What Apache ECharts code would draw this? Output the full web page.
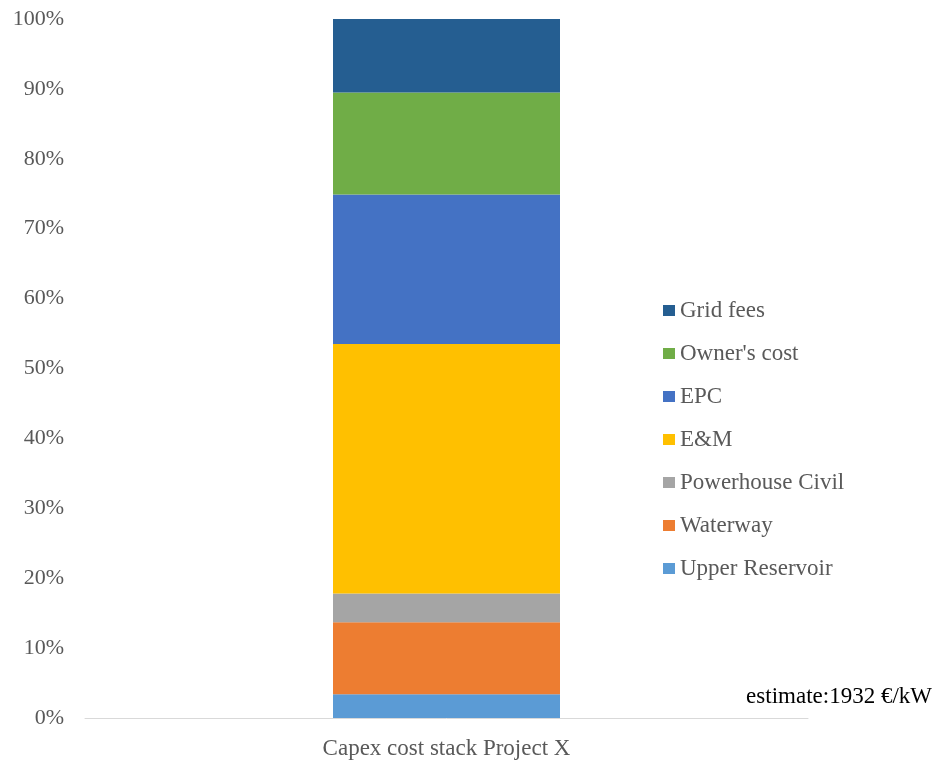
<!DOCTYPE html>
<html>
<head>
<meta charset="utf-8">
<script src="https://cdn.jsdelivr.net/npm/echarts@6/dist/echarts.min.js"></script>
<style>
  html, body { margin: 0; padding: 0; background: #fff; }
  #chart { width: 934px; height: 760px; }
</style>
</head>
<body>
<div id="chart"></div>
<script>
// Capex breakdown of a single project, shares in percent of total
const categories = ['Capex cost stack Project X'];
const seriesNames = ['Upper Reservoir', 'Waterway', 'Powerhouse Civil', 'E&M', 'EPC', "Owner's cost", 'Grid fees'];
const upperReservoir = [3.4];
const waterway = [10.3];
const powerhouseCivil = [4.1];
const eAndM = [35.7];
const epc = [21.4];
const ownersCost = [14.6];
const gridFees = [10.5];
const yTicks = [0, 10, 20, 30, 40, 50, 60, 70, 80, 90, 100];
const estimateText = 'estimate:1932 €/kW';

const seriesValues = [upperReservoir, waterway, powerhouseCivil, eAndM, epc, ownersCost, gridFees];
const colors = ['#5B9BD5', '#ED7D31', '#A5A5A5', '#FFC000', '#4472C4', '#70AD47', '#255E91'];

const font = 'Liberation Serif';
const chart = echarts.init(document.getElementById('chart'));

chart.setOption({
  animation: false,
  textStyle: { fontFamily: font },
  grid: { left: 85, right: 126, top: 19, bottom: 40.5, containLabel: false },
  legend: {
    orient: 'vertical',
    left: 658,
    top: 294,
    icon: 'rect',
    itemWidth: 12,
    itemHeight: 11,
    itemGap: 20,
    itemStyle: { borderWidth: 0 },
    textStyle: { fontFamily: font, fontSize: 23, color: '#595959', padding: [0, 0, 0, 0], lineHeight: 23 },
    data: seriesNames.slice().reverse()
  },
  xAxis: {
    type: 'category',
    data: categories,
    axisLine: { lineStyle: { color: '#D9D9D9', width: 1 } },
    axisTick: { show: false },
    axisLabel: { fontFamily: font, fontSize: 23, color: '#595959', margin: 19 }
  },
  yAxis: {
    type: 'value',
    min: yTicks[0],
    max: yTicks[yTicks.length - 1],
    interval: yTicks[1] - yTicks[0],
    splitLine: { show: false },
    axisLine: { show: false },
    axisTick: { show: false },
    axisLabel: { fontFamily: font, fontSize: 22, color: '#595959', margin: 21, padding: [6, 0, 0, 0], formatter: v => v + '%' }
  },
  graphic: [{
    type: 'text',
    right: 2,
    top: 685,
    style: { text: estimateText, fontFamily: font, fontSize: 23, fill: '#000' }
  }],
  series: seriesNames.map((name, i) => ({
    name: name,
    type: 'bar',
    stack: 'capex',
    barWidth: 227,
    data: seriesValues[i],
    itemStyle: { color: colors[i] }
  }))
});
</script>
</body>
</html>
